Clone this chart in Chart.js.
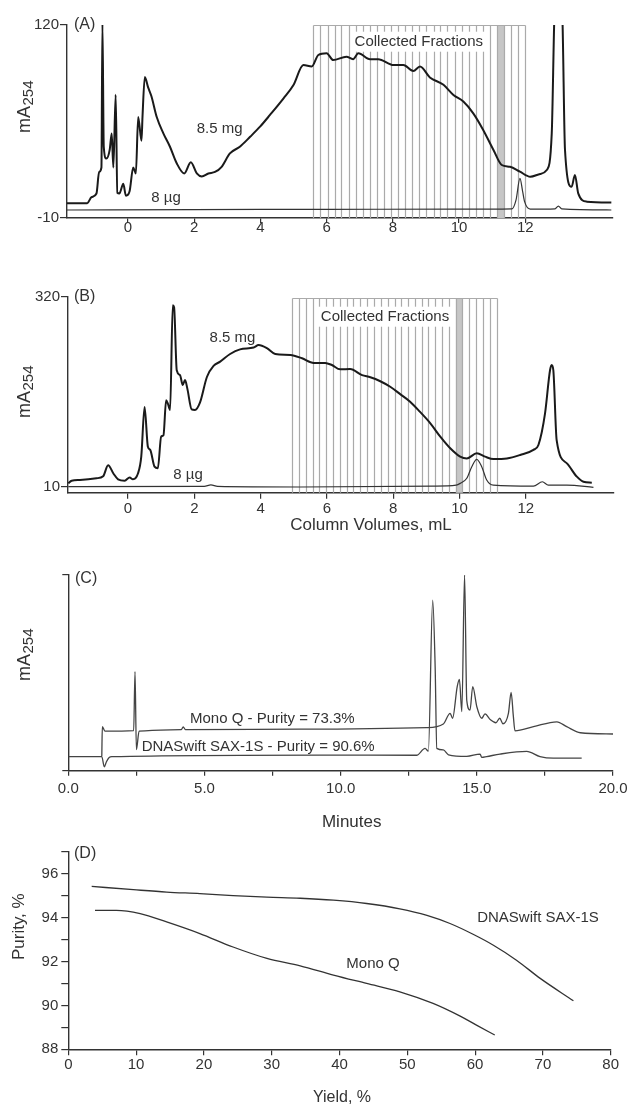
<!DOCTYPE html>
<html><head><meta charset="utf-8">
<script src="https://cdn.jsdelivr.net/npm/chart.js@4.4.1/dist/chart.umd.min.js"></script>
<style>
html,body{margin:0;padding:0;background:#fff;width:634px;height:1108px;overflow:hidden;}
canvas{position:absolute;left:0;}
</style></head><body>
<canvas id="cA" width="634" height="250" style="top:0px"></canvas>
<canvas id="cB" width="634" height="290" style="top:250px"></canvas>
<canvas id="cC" width="634" height="290" style="top:540px"></canvas>
<canvas id="cD" width="634" height="278" style="top:830px"></canvas>
<script>
// ---------------- DATA ----------------
// Panel A (column volumes, mL vs mA254)
const aMgX = [-1.84,-1.23,-1.1,-0.95,-0.87,-0.8,-0.77,-0.73,-0.65,-0.55,-0.49,-0.44,-0.37,-0.32,-0.26,-0.14,-0.06,0.05,0.16,0.24,0.31,0.41,0.44,0.51,0.61,0.71,0.87,1.07,1.27,1.47,1.70,1.9,2.08,2.23,2.43,2.63,2.83,3.08,3.38,3.69,3.99,4.29,4.7,5.0,5.3,5.55,5.75,6.0,6.2,6.6,6.8,6.96,7.31,7.56,8.02,8.32,8.62,8.82,9.12,9.53,9.83,10.13,10.43,10.73,11.04,11.29,11.54,11.84,12.15,12.45,12.65,12.8,12.87,13.0,13.13,13.2,13.4,13.5,13.6,13.86,14.6];
const aMgY = [0,0,4,6.5,21,24,122,38,30,36,47,24,73,7,6.5,13,5,8,24,20,58,42,58,85,78,72,58,47,38,27,20,27.5,20,18,20,21,24.5,33.5,38,44.7,51.5,59.4,70.6,79.6,93,92,99.8,101,96.4,98.6,97,101,97,97,93,93,89,92,84.7,79.7,72.9,68.4,60.5,49.3,35.8,25.7,24.5,21.2,17.8,19.6,22.3,47,118,220,118,36,11,19,6.6,1,0.4];
const aUgX = [-1.84,2,6,10,11.6,11.72,11.84,11.92,11.98,12.15,12.9,13.0,13.1,14.6];
const aUgY = [-4.6,-4.3,-4.2,-4.0,-3.8,2,16.7,8,1,-4,-3.8,-2,-3.8,-4.6];
const aFractionEdges = [5.60,5.81,6.03,6.24,6.45,6.67,6.88,7.09,7.31,7.52,7.73,7.95,8.16,8.37,8.59,8.80,9.01,9.23,9.44,9.65,9.87,10.08,10.29,10.51,10.72,10.93,11.15,11.36,11.57,11.79,12.00];
const aHighlight = 26, aFractionTop = 120;
const abXTicks = [0,2,4,6,8,10,12];
const aYTicks = [-10,120];

// Panel B
const bMgX = [-1.8,-1.70,-1.45,-0.95,-0.75,-0.6,-0.44,-0.3,-0.1,0.05,0.15,0.3,0.4,0.5,0.6,0.67,0.8,0.9,1.0,1.07,1.15,1.2,1.27,1.35,1.39,1.47,1.57,1.65,1.72,1.79,1.92,2.02,2.17,2.38,2.58,2.78,3.08,3.38,3.79,3.94,4.19,4.44,4.9,5.25,5.6,5.95,6.15,6.4,6.7,7.06,7.31,7.61,7.91,8.21,8.51,8.81,9.12,9.42,9.72,10.02,10.22,10.52,10.77,11.02,11.43,11.83,12.23,12.38,12.58,12.73,12.78,12.83,12.93,13.24,13.54,13.74,13.99];
const bMgY = [15.5,19.8,21,23.7,27,45,31.5,22,19.8,25,22,31.5,59,140,75,70,42.6,40,91.6,94,151,146,135,306,303,200,192,176,184,170,136,135,147,189,207,214,226.5,234,237,241,236,226.5,225,219.5,212,212,208.5,201.5,202,192,188.5,182,173,161,148.7,132,113.4,91.6,72.6,59,56,64.5,59,55,56,61.7,70,78,129.7,200,208.5,200,86,48,26.3,18,16.5];
const bUgX = [-1.8,2.3,2.5,2.7,5.2,9.2,9.9,10.02,10.22,10.37,10.52,10.67,10.82,11.02,12.23,12.5,12.68,13.24,14.04];
const bUgY = [10,10.5,13,10.5,9.5,10.9,12.5,15.4,23.7,42.6,54.6,42.6,21,12.6,11,18,12.6,12.6,9];
const bFractionEdges = [4.95,5.16,5.36,5.57,5.77,5.98,6.18,6.39,6.60,6.80,7.01,7.21,7.42,7.62,7.83,8.04,8.24,8.45,8.65,8.86,9.06,9.27,9.48,9.68,9.89,10.09,10.30,10.50,10.71,10.91,11.12];
const bHighlight = 24, bFractionTop = 317.4;
const bYTicks = [10,320];

// Panel C (minutes vs mA254, arbitrary)
const cMonoX = [1.23,1.25,1.35,2.4,2.45,2.5,2.6,4.15,4.22,4.3,8.51,13.16,13.77,14.02,14.11,14.28,14.36,14.45,14.55,14.63,14.75,14.85,15.0,15.18,15.3,15.5,15.7,15.84,15.96,16.16,16.26,16.34,16.4,17.08,17.94,18.3,18.8,20.0];
const cMonoY = [7.5,22.5,20.2,20.5,50.6,10.8,20.2,21.0,22.4,21.0,21.2,22,23.9,29.3,26.8,43,46.7,30.2,100,36,31,43,32.7,26.8,29,26,24.5,26.8,24,29.3,40,28,20.4,22.5,25,22.5,19.4,18.75];
const cSaxX = [0,1.23,1.32,1.4,1.5,1.6,9.24,12.79,13.1,13.22,13.38,13.47,13.53,13.77,13.96,14.63,15.12,15.18,15.36,15.85,16.83,17.32,17.81,18.85];
const cSaxY = [7.2,7.2,2,4.6,6.8,7.2,8.0,7.9,11.4,10,87.2,53,11.4,10.6,8.1,7.3,8.5,6.8,7.2,8.5,9.9,7.2,6.4,6.4];
const cXTicks = [0,2.5,5,7.5,10,12.5,15,17.5,20];
const cYTicks = [0,100];

// Panel D (yield % vs purity %)
const dSaxX = [3.45,9.6,14.5,19.4,24.3,29.3,34.2,39.1,44.0,48.9,52.9,56.3,59.7,62.7,66.1,69.6,74.5];
const dSaxY = [95.42,95.27,95.16,95.09,95.0,94.93,94.88,94.79,94.64,94.4,94.1,93.73,93.24,92.74,92.06,91.23,90.21];
const dMonoX = [3.94,7.1,10.6,14.5,19.4,24.3,29.3,34.2,39.1,44.0,48.9,53.8,57.8,60.2,62.9];
const dMonoY = [94.33,94.33,94.18,93.8,93.27,92.66,92.14,91.8,91.38,91.0,90.62,90.09,89.51,89.1,88.65];
const dXTicks = [0,10,20,30,40,50,60,70,80];
const dYTicks = [88,89,90,91,92,93,94,95,96,97];

// ---------------- RENDER ----------------
const FONT = '"Liberation Sans", Arial, Helvetica, sans-serif';
const INK = '#333';
const pts = (xs, ys) => xs.map((x, i) => ({x, y: ys[i]}));

function drawText(ctx, top, t) {
  ctx.save();
  ctx.font = (t.size || 15) + 'px ' + FONT;
  ctx.textAlign = t.align || 'center';
  ctx.textBaseline = 'middle';
  const y = t.y - top;
  if (t.bg) {
    const w = ctx.measureText(t.text).width;
    ctx.fillStyle = '#fff';
    ctx.fillRect(t.x - w / 2 - 3, y - 10, w + 6, 20);
  }
  ctx.fillStyle = INK;
  if (t.rot) { ctx.translate(t.x, y); ctx.rotate(-Math.PI / 2); ctx.fillText(t.text, 0, 0); }
  else ctx.fillText(t.text, t.x, y);
  ctx.restore();
}
function drawMA(ctx, top, yc) {
  ctx.save();
  ctx.translate(29.5, yc - top);
  ctx.rotate(-Math.PI / 2);
  ctx.fillStyle = INK;
  ctx.textBaseline = 'alphabetic';
  ctx.textAlign = 'left';
  ctx.font = '18px ' + FONT;
  const w1 = ctx.measureText('mA').width;
  ctx.font = '15px ' + FONT;
  const w2 = ctx.measureText('254').width;
  const x0 = -(w1 + w2) / 2;
  ctx.font = '18px ' + FONT;
  ctx.fillText('mA', x0, 0);
  ctx.font = '15px ' + FONT;
  ctx.fillText('254', x0 + w1 + 0.5, 3.5);
  ctx.restore();
}
function drawFractions(chart, edges, hi, topVal) {
  const {ctx, scales: {x, y}, chartArea} = chart;
  const yt = Math.round(y.getPixelForValue(topVal)) + 0.5, yb = chartArea.bottom;
  ctx.save();
  ctx.fillStyle = '#c6c6c6';
  const x0 = x.getPixelForValue(edges[hi]), x1 = x.getPixelForValue(edges[hi + 1]);
  ctx.fillRect(x0, yt, x1 - x0, yb - yt);
  ctx.strokeStyle = '#aaaaaa';
  ctx.lineWidth = 1.2;
  ctx.beginPath();
  edges.forEach(e => { const px = Math.round(x.getPixelForValue(e)) + 0.5; ctx.moveTo(px, yt); ctx.lineTo(px, yb); });
  ctx.moveTo(Math.round(x.getPixelForValue(edges[0])) + 0.5, yt);
  ctx.lineTo(Math.round(x.getPixelForValue(edges[edges.length - 1])) + 0.5, yt);
  ctx.stroke();
  ctx.restore();
}

function axisCfg(o) {
  return {
    type: 'linear', min: o.min, max: o.max,
    afterFit: o.fit,
    afterBuildTicks: s => { s.ticks = o.ticks.map(v => ({value: v})); },
    ticks: { callback: o.fmt, font: {family: FONT, size: 15}, color: INK, padding: o.pad, maxRotation: 0, autoSkip: false },
    grid: { display: true, drawOnChartArea: false, drawTicks: true, tickLength: o.tl, color: INK, lineWidth: 1.2 },
    border: { display: true, color: INK, width: 1.4 }
  };
}

function makePanel(id, top, h, area, xo, yo, datasets, deco) {
  xo.fit = s => { s.height = top + h - area.b; };
  yo.fit = s => { s.width = area.l; };
  return new Chart(document.getElementById(id), {
    type: 'line',
    data: { datasets },
    options: {
      responsive: false, animation: false, devicePixelRatio: 1,
      layout: { padding: { left: 0, right: 634 - area.r, top: area.t - top, bottom: 0 } },
      plugins: { legend: {display: false}, tooltip: {enabled: false} },
      elements: { point: { radius: 0 }, line: { cubicInterpolationMode: 'monotone', fill: false } },
      scales: { x: axisCfg(xo), y: axisCfg(yo) }
    },
    plugins: [{
      id: 'deco',
      beforeDatasetsDraw(chart) { if (deco.before) deco.before(chart); },
      afterDraw(chart) {
        const ctx = chart.ctx;
        (deco.texts || []).forEach(t => drawText(ctx, top, t));
        if (deco.ma) drawMA(ctx, top, deco.ma);
      }
    }]
  });
}
const ds = (xs, ys, w, c) => ({ data: pts(xs, ys), borderColor: c, borderWidth: w, pointRadius: 0 });
const fmtInt = v => String(v);

// Panel A
makePanel('cA', 0, 250, {l: 67, t: 25, r: 613, b: 218},
  {min: -1.84, max: 14.65, ticks: abXTicks, fmt: fmtInt, pad: -4, tl: 5},
  {min: -10, max: 120, ticks: aYTicks, fmt: fmtInt, pad: 1, tl: 7},
  [ds(aMgX, aMgY, 2, '#1a1a1a'), ds(aUgX, aUgY, 1.2, '#333')],
  { before: ch => {
      drawFractions(ch, aFractionEdges, aHighlight, aFractionTop);
      drawText(ch.ctx, 0, {text: 'Collected Fractions', x: 418.8, y: 41.7, bg: true});
    },
    texts: [{text: '(A)', x: 74, y: 25, size: 16, align: 'left'},
            {text: '8.5 mg', x: 219.7, y: 129}, {text: '8 \u00b5g', x: 166, y: 198}],
    ma: 107 });

// Panel B
makePanel('cB', 250, 290, {l: 68, t: 296.7, r: 614, b: 492.8},
  {min: -1.81, max: 14.66, ticks: abXTicks, fmt: fmtInt, pad: 1, tl: 6},
  {min: 0, max: 320, ticks: bYTicks, fmt: fmtInt, pad: 1, tl: 7},
  [ds(bMgX, bMgY, 2, '#1a1a1a'), ds(bUgX, bUgY, 1.2, '#333')],
  { before: ch => {
      drawFractions(ch, bFractionEdges, bHighlight, bFractionTop);
      drawText(ch.ctx, 250, {text: 'Collected Fractions', x: 385, y: 316.7, bg: true});
    },
    texts: [{text: '(B)', x: 74, y: 297, size: 16, align: 'left'},
            {text: '8.5 mg', x: 232.5, y: 338}, {text: '8 \u00b5g', x: 188, y: 475},
            {text: 'Column Volumes, mL', x: 371, y: 525, size: 17}],
    ma: 392 });

// Panel C
makePanel('cC', 540, 290, {l: 68.3, t: 575, r: 613, b: 770.7},
  {min: 0, max: 20, ticks: cXTicks, fmt: v => (v % 5 === 0 ? v.toFixed(1) : ''), pad: 4, tl: 5},
  {min: 0, max: 100, ticks: cYTicks, fmt: () => '', pad: 0, tl: 6},
  [ds(cMonoX, cMonoY, 1.3, '#444'), ds(cSaxX, cSaxY, 1.3, '#444')],
  { texts: [{text: '(C)', x: 75, y: 579, size: 16, align: 'left'},
            {text: 'Mono Q - Purity = 73.3%', x: 190, y: 719, align: 'left'},
            {text: 'DNASwift SAX-1S - Purity = 90.6%', x: 141.7, y: 746.7, align: 'left'},
            {text: 'Minutes', x: 351.7, y: 822, size: 17}],
    ma: 655 });

// Panel D
makePanel('cD', 830, 278, {l: 68.3, t: 851.7, r: 610.7, b: 1049.3},
  {min: 0, max: 80, ticks: dXTicks, fmt: fmtInt, pad: 1, tl: 6},
  {min: 88, max: 97, ticks: dYTicks, fmt: v => (v % 2 === 0 && v <= 96 ? String(v) : ''), pad: 3, tl: 7},
  [ds(dSaxX, dSaxY, 1.3, '#333'), ds(dMonoX, dMonoY, 1.3, '#333')],
  { texts: [{text: '(D)', x: 74, y: 854, size: 16, align: 'left'},
            {text: 'DNASwift SAX-1S', x: 538, y: 918.3},
            {text: 'Mono Q', x: 373, y: 964},
            {text: 'Yield, %', x: 342, y: 1098, size: 16},
            {text: 'Purity, %', x: 19.5, y: 926.7, size: 17, rot: true}] });
</script>
</body></html>
